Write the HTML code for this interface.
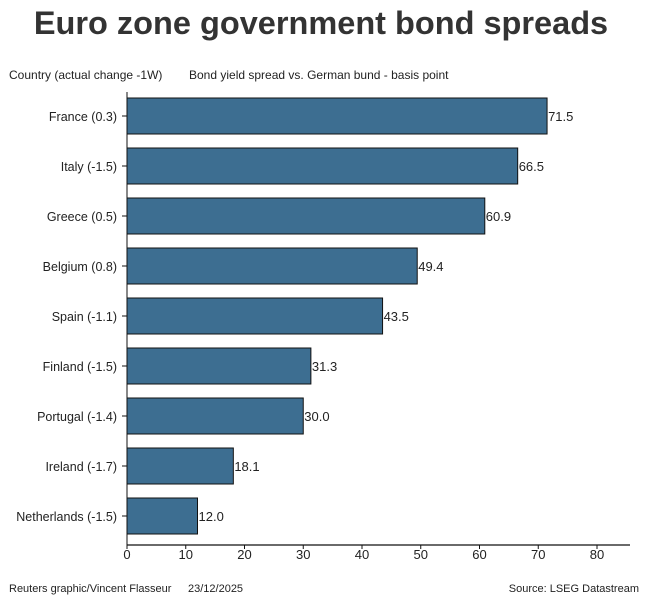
<!DOCTYPE html>
<html><head><meta charset="utf-8"><style>
body{margin:0;background:#fff;font-family:"Liberation Sans",sans-serif;}
svg{display:block}
</style></head><body>
<svg width="650" height="600" xmlns="http://www.w3.org/2000/svg" font-family="Liberation Sans, sans-serif">
<text x="321" y="34" text-anchor="middle" font-size="32.5" font-weight="bold" fill="#333">Euro zone government bond spreads</text>
<text x="9" y="79" font-size="12" fill="#222">Country (actual change -1W)</text>
<text x="189" y="79" font-size="12" fill="#222">Bond yield spread vs. German bund - basis point</text>
<g id="plot"></g>
<text x="9" y="592" font-size="11" fill="#222">Reuters graphic/Vincent Flasseur</text>
<text x="188" y="592" font-size="11" fill="#222">23/12/2025</text>
<text x="639" y="592" font-size="11" fill="#222" text-anchor="end">Source: LSEG Datastream</text>
</svg>
<script>
const categories=["France (0.3)","Italy (-1.5)","Greece (0.5)","Belgium (0.8)","Spain (-1.1)","Finland (-1.5)","Portugal (-1.4)","Ireland (-1.7)","Netherlands (-1.5)"];
const values=[71.5,66.5,60.9,49.4,43.5,31.3,30.0,18.1,12.0];
const ticks=[0,10,20,30,40,50,60,70,80];
const NS="http://www.w3.org/2000/svg";
const g=document.getElementById('plot');
const x0=127,pxPer=470/80,top0=116,step=50,bh=36,axisY=545;
const xs=v=>x0+v*pxPer, ys=i=>top0+i*step;
function mk(t,a){const e=document.createElementNS(NS,t);for(const k in a)e.setAttribute(k,a[k]);g.appendChild(e);return e;}
categories.forEach((c,i)=>{
 const r=mk('rect',{x:x0,y:ys(i)-bh/2,width:xs(values[i])-x0,height:bh,fill:'#3d6e91',stroke:'#111','stroke-width':1});
 
 
 const l=mk('text',{x:xs(values[i])+1,y:ys(i)+5,'font-size':13,fill:'#222'});l.textContent=values[i].toFixed(1);
 
 
 const t=mk('text',{x:x0-10,y:ys(i)+5,'font-size':12.5,fill:'#222','text-anchor':'end'});t.textContent=c;
 
 
 mk('line',{x1:x0-5,x2:x0,y1:ys(i),y2:ys(i),stroke:'#111'});
});
mk('line',{x1:x0,x2:x0,y1:92,y2:axisY,stroke:'#111'});
mk('line',{x1:x0,x2:630,y1:axisY,y2:axisY,stroke:'#111','stroke-width':1.3});
ticks.forEach(v=>{
 mk('line',{x1:xs(v),x2:xs(v),y1:axisY,y2:axisY+4,stroke:'#111'});
 const t=mk('text',{x:xs(v),y:axisY+14,'font-size':13,fill:'#222','text-anchor':'middle'});t.textContent=v;
 
 
});
</script>
</body></html>
